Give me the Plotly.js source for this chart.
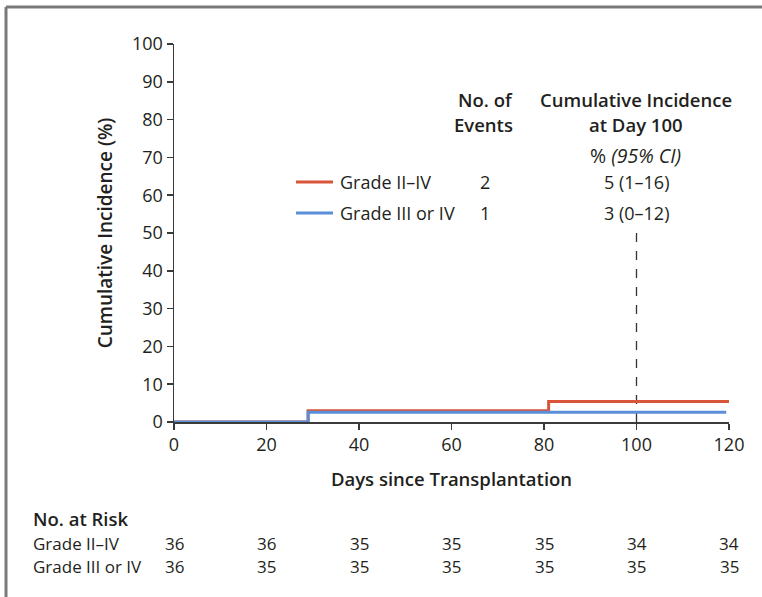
<!DOCTYPE html>
<html>
<head>
<meta charset="utf-8">
<script src="https://cdn.plot.ly/plotly-3.0.1.min.js"></script>
<style>
  html, body { margin: 0; padding: 0; background: #ffffff; }
  #chart { width: 762px; height: 597px; }
</style>
</head>
<body>
<div id="chart"></div>
<script>
// ---- data ----
const seriesNames = ["Grade II\u2013IV", "Grade III or IV"];
const gradeIIIV_days = [0, 29, 81, 120];
const gradeIIIV_pct  = [0, 3.0, 5.4, 5.4];
const gradeIIIorIV_days = [0, 29, 119.4];
const gradeIIIorIV_pct  = [0, 2.55, 2.55];
const numEvents = ["2", "1"];
const incidenceDay100 = ["5 (1\u201316)", "3 (0\u201312)"];
const riskDays = [0, 20, 40, 60, 80, 100, 120];
const riskGradeIIIV = [36, 36, 35, 35, 35, 34, 34];
const riskGradeIIIorIV = [36, 35, 35, 35, 35, 35, 35];
const xTicks = [0, 20, 40, 60, 80, 100, 120];
const yTicks = [0, 10, 20, 30, 40, 50, 60, 70, 80, 90, 100];
const day100Marker = 100;
const day100LineTop = 50;

const redColor = "#d8553a";
const blueColor = "#5b8ed6";
const textColor = "#231f20";
const FONT = "'Open Sans', 'Noto Sans', sans-serif";
const FS = 18;
const FSB = 18.5;
const FSR = 17;   // risk table rows

// pixel helpers (plot area: left 174, right 729, top 44, bottom 422)
const L = 174, R = 729, T = 44, B = 422;
const px = x => (x - L) / (R - L);
const py = y => (B - y) / (B - T);

const traces = [
  {
    x: gradeIIIV_days, y: gradeIIIV_pct, type: "scatter", mode: "lines",
    line: { shape: "hv", color: redColor, width: 3 }, name: seriesNames[0],
    showlegend: false, hoverinfo: "skip"
  },
  {
    x: gradeIIIorIV_days, y: gradeIIIorIV_pct, type: "scatter", mode: "lines",
    line: { shape: "hv", color: blueColor, width: 3 }, name: seriesNames[1],
    showlegend: false, hoverinfo: "skip"
  }
];

const annotations = [];
function addText(text, x, y, opts) {
  annotations.push(Object.assign({
    text: text, x: x, y: y, xref: "paper", yref: "paper",
    showarrow: false, xanchor: "center", yanchor: "middle", borderpad: 0,
    font: { family: FONT, size: FS, color: textColor }
  }, opts || {}));
}
const bold = { family: FONT, size: FSB, color: textColor, weight: 600 };
const rowFont = { family: FONT, size: FSR, color: textColor };

// header of inset legend table
addText("No. of", px(514), py(99.5), { xanchor: "right", font: bold });
addText("Events", px(514), py(124.5), { xanchor: "right", font: bold });
addText("Cumulative Incidence", px(636), py(99.5), { font: bold });
addText("at Day 100", px(636), py(124.5), { font: bold });
addText("% <i>(95% CI)</i>", px(635), py(155), { font: { family: FONT, size: 19.5, color: textColor } });
const rowY = [182, 213];
for (let i = 0; i < 2; i++) {
  addText(seriesNames[i], px(339), py(rowY[i]), { xanchor: "left" });
  addText(numEvents[i], px(485), py(rowY[i]));
  addText(incidenceDay100[i], px(636), py(rowY[i]));
}

// risk table
const riskRowY = [543, 566.8];
addText("No. at Risk", px(32), py(518.5), { xanchor: "left", font: bold });
addText(seriesNames[0], px(32), py(riskRowY[0]), { xanchor: "left", font: rowFont });
addText(seriesNames[1], px(32), py(riskRowY[1]), { xanchor: "left", font: rowFont });
for (let i = 0; i < riskDays.length; i++) {
  annotations.push({
    text: String(riskGradeIIIV[i]), x: riskDays[i], xref: "x", y: py(riskRowY[0]), yref: "paper",
    showarrow: false, xanchor: "center", yanchor: "middle", borderpad: 0, font: rowFont
  });
  annotations.push({
    text: String(riskGradeIIIorIV[i]), x: riskDays[i], xref: "x", y: py(riskRowY[1]), yref: "paper",
    showarrow: false, xanchor: "center", yanchor: "middle", borderpad: 0, font: rowFont
  });
}

const shapes = [
  // dashed day-100 line
  { type: "line", xref: "x", yref: "y", x0: day100Marker, x1: day100Marker, y0: 0, y1: day100LineTop,
    line: { color: "#333", width: 1.3, dash: "dash" }, layer: "below" },
  // legend line samples
  { type: "line", xref: "paper", yref: "paper", x0: px(296), x1: px(333), y0: py(182), y1: py(182),
    line: { color: redColor, width: 3 } },
  { type: "line", xref: "paper", yref: "paper", x0: px(296), x1: px(333), y0: py(213), y1: py(213),
    line: { color: blueColor, width: 3 } },
  // frame (top and left)
  { type: "line", xref: "paper", yref: "paper", x0: px(6), x1: px(762), y0: py(7), y1: py(7),
    line: { color: "#7a7a7a", width: 3 } },
  { type: "line", xref: "paper", yref: "paper", x0: px(6), x1: px(6), y0: py(7), y1: py(597),
    line: { color: "#7a7a7a", width: 3 } }
];

const layout = {
  width: 762, height: 597,
  margin: { l: L, r: 762 - R, t: T, b: 597 - B },
  paper_bgcolor: "#ffffff", plot_bgcolor: "#ffffff",
  showlegend: false,
  font: { family: FONT, size: FS, color: textColor },
  xaxis: {
    range: [0, 120], tickvals: xTicks, ticktext: xTicks.map(String),
    showgrid: false, zeroline: false, showline: true, linecolor: "#3a3a3a", linewidth: 1.5,
    ticks: "outside", ticklen: 6, tickcolor: "#3a3a3a", tickwidth: 1.5,
    tickfont: { family: FONT, size: FS, color: textColor },
    title: { text: "Days since Transplantation", standoff: 18,
             font: { family: FONT, size: FSB, color: textColor, weight: 600 } }
  },
  yaxis: {
    range: [0, 100], tickvals: yTicks, ticktext: yTicks.map(String),
    showgrid: false, zeroline: false, showline: true, linecolor: "#3a3a3a", linewidth: 1.5,
    ticks: "outside", ticklen: 6, tickcolor: "#3a3a3a", tickwidth: 1.5,
    tickfont: { family: FONT, size: FS, color: textColor },
    title: { text: "Cumulative Incidence (%)", standoff: 14,
             font: { family: FONT, size: 19, color: textColor, weight: 600 } }
  },
  annotations: annotations,
  shapes: shapes
};

Plotly.newPlot("chart", traces, layout, { displayModeBar: false, staticPlot: true });
</script>
</body>
</html>
